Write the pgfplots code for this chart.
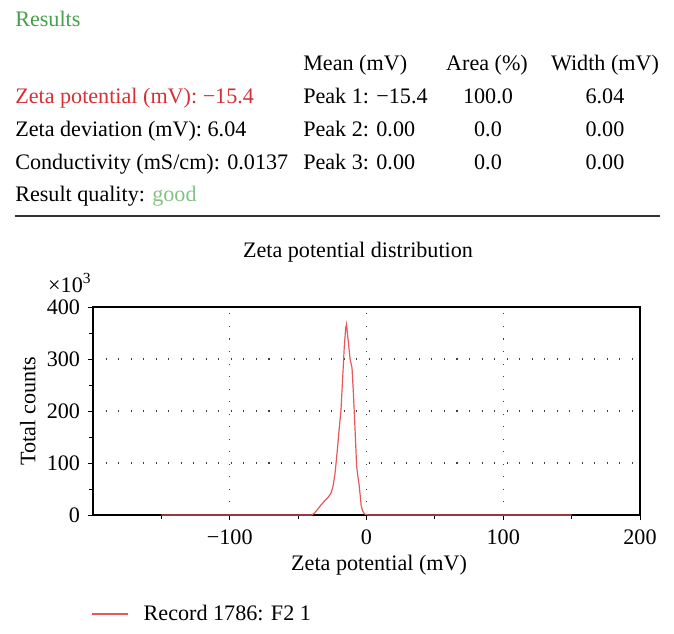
\documentclass[border=0pt]{standalone}
\usepackage{pgfplots}
\pgfplotsset{compat=1.18}
\usepackage{fontspec}
\setmainfont{Liberation Serif}
\definecolor{resred}{RGB}{214,48,52}
\definecolor{curvered}{RGB}{232,88,90}
\definecolor{resgreen}{RGB}{70,160,75}
\definecolor{goodgreen}{RGB}{130,195,130}
\begin{document}
\fontsize{16.6}{19}\selectfont
\begin{tikzpicture}[x=0.75pt,y=-0.75pt]
\path[use as bounding box] (0,0) rectangle (674,634);
% header
\node[anchor=base west,inner sep=0,text=resgreen] at (15,27) {Results};
\node[anchor=base west,inner sep=0] at (303,71) {Mean (mV)};
\node[anchor=base,inner sep=0] at (487,71) {Area (\%)};
\node[anchor=base,inner sep=0] at (605,71) {Width (mV)};
\node[anchor=base west,inner sep=0,text=resred] at (15,104) {Zeta potential (mV): −15.4};
\node[anchor=base west,inner sep=0] at (303,104) {Peak 1: −15.4};
\node[anchor=base,inner sep=0] at (488,104) {100.0};
\node[anchor=base,inner sep=0] at (605,104) {6.04};
\node[anchor=base west,inner sep=0] at (15,137) {Zeta deviation (mV): 6.04};
\node[anchor=base west,inner sep=0] at (303,137) {Peak 2: 0.00};
\node[anchor=base,inner sep=0] at (488,137) {0.0};
\node[anchor=base,inner sep=0] at (605,137) {0.00};
\node[anchor=base west,inner sep=0] at (15,170) {Conductivity (mS/cm): 0.0137};
\node[anchor=base west,inner sep=0] at (303,170) {Peak 3: 0.00};
\node[anchor=base,inner sep=0] at (488,170) {0.0};
\node[anchor=base,inner sep=0] at (605,170) {0.00};
\node[anchor=base west,inner sep=0] at (15,202) {Result quality: \textcolor{goodgreen}{good}};
\draw[line width=1.1pt,black!80] (15,216) -- (660,216);
\begin{axis}[
  at={(69.75pt,-386.25pt)}, anchor=south west,
  width=410.25pt, height=156pt, scale only axis,
  xmin=-200, xmax=200, ymin=0, ymax=400,
  xtick={-100,0,100,200}, xticklabels={−100,0,100,200},
  minor xtick={-150,-50,50,150},
  ytick={0,100,200,300,400}, yticklabels={0,100,200,300,400},
  minor ytick={50,150,250,350},
  tick align=outside, xtick pos=bottom, ytick pos=left,
  major tick length=4pt, minor tick length=3pt,
  tick style={black, line width=0.6pt},
  axis line style={black, line width=0.9pt},
  grid=major,
  major grid style={black!75, line width=0.8pt, dash pattern=on 0.8pt off 8.6pt},
  title={Zeta potential distribution},
  title style={at={(axis description cs:0.4845,1.226)}, anchor=center},
  xlabel={Zeta potential (mV)},
  xlabel style={at={(axis description cs:0.523,-0.24)}, anchor=center},
  ylabel={Total counts},
  ylabel style={at={(axis description cs:-0.119,0.5)}, anchor=center},
  xticklabel style={yshift=-1pt},
  legend style={at={(axis description cs:-0.0099,-0.476)}, anchor=west, draw=none, fill=none, column sep=9pt, font=\fontsize{16.6}{19}\selectfont},
  legend image code/.code={\draw[#1] (0pt,0pt) -- (27pt,0pt);},
  clip=false,
]
\addplot[curvered, line width=0.9pt] coordinates {
(-150,0) (-40,0) (-38,4) (-36,10) (-34,17) (-31,26) (-28,34) (-26,42)
(-24.5,55) (-23,80) (-21.5,120) (-20,165) (-18.7,200) (-17.5,260) (-16.3,321)
(-15.2,360) (-14.6,367) (-13.8,345) (-12,300) (-10.6,283) (-9.5,230) (-8.3,160)
(-7.2,93) (-6.2,72) (-5.5,60) (-4.5,35) (-3.9,18) (-3,9) (-2,4) (-1,1.5) (0.5,0.3) (2,0) (150,0)
};
\addlegendentry{Record 1786: F2 1}
\node[anchor=base west,inner sep=0] at (axis description cs:-0.0823,1.072) {×10\textsuperscript{3}};
\end{axis}
\end{tikzpicture}
\end{document}
